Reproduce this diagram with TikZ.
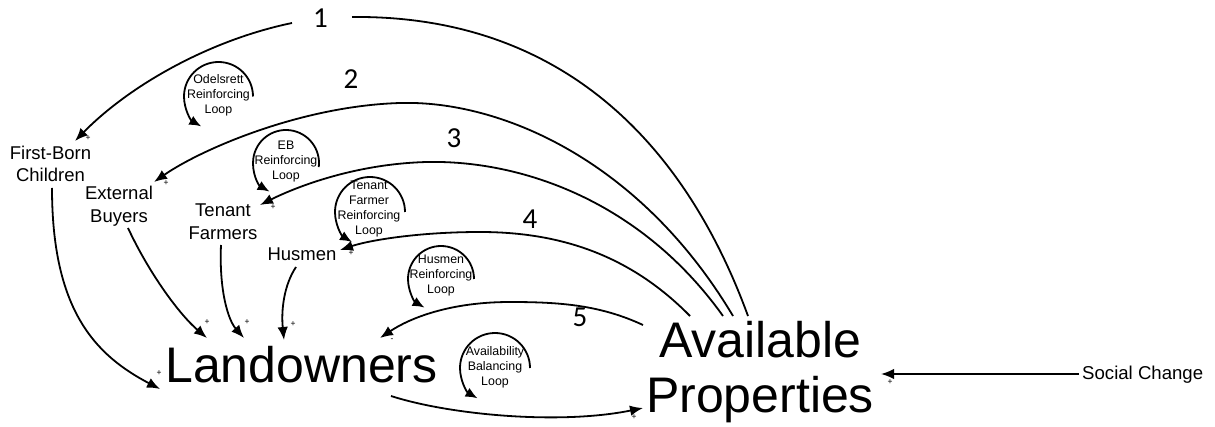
\documentclass[tikz,border=0pt]{standalone}
\usepackage{fontspec}
\setmainfont{Liberation Sans}
\newfontfamily\numfont{Carlito}
\usetikzlibrary{arrows.meta,calc}
\begin{document}
\begin{tikzpicture}[x=1pt,y=-1pt,
  conn/.style={line width=1.8pt,-{Latex[length=13pt,width=10.5pt]}},
  plain/.style={line width=1.8pt},
  lbl/.style={font=\fontsize{18.5}{22.5}\selectfont,align=center,inner sep=0pt},
  big/.style={font=\fontsize{50}{55}\selectfont,align=center,inner sep=0pt},
  looptxt/.style={font=\fontsize{12.4}{15}\selectfont,align=center,inner sep=0pt},
  num/.style={font=\numfont\fontsize{29}{29}\selectfont,inner sep=0pt,anchor=base},
  pol/.style={font=\fontsize{8.5}{8.5}\selectfont,inner sep=0pt},
  looparc/.style={line width=1.8pt,-{Latex[length=12pt,width=10pt]}}
]
\useasboundingbox (0,0) rectangle (1215,427);

% main variables
\node[lbl] (fbc) at (50.5,164) {First-Born\\Children};
\node[lbl] (eb) at (119,206) {External\\Buyers};
\node[lbl] (tf) at (223,221.5) {Tenant\\Farmers};
\node[lbl,anchor=base] (hus) at (302,261) {Husmen};
\node[big,anchor=base] (land) at (301.5,382) {Landowners};
\node[big] (avail) at (760,372.5) {Available\\Properties};
\node[font=\fontsize{18.6}{20}\selectfont,anchor=base west,inner sep=0pt] (soc) at (1082,379) {Social Change};

% loop numbers
\node[num] (n1) at (320.5,28) {1};
\node[num] (n2) at (351,89) {2};
\node[num] (n3) at (454,148) {3};
\node[num] (n4) at (530,229) {4};
\node[num] (n5) at (580,327) {5};

% loop markers
\coordinate (lo) at (218.5,96.5);
\node[looptxt] (lot) at (218.5,95) {Odelsrett\\Reinforcing\\Loop};
\draw[looparc] ([xshift=34.5pt]lo) arc[start angle=0,end angle=-240,radius=34.5];

\coordinate (le) at (286,163);
\node[looptxt] (let) at (286,161.5) {EB\\Reinforcing\\Loop};
\draw[looparc] ($(le)+(7:33)$) arc[start angle=7,end angle=-240,radius=33];

\coordinate (lt) at (370,212);
\node[looptxt] (ltt) at (369,209) {Tenant\\Farmer\\Reinforcing\\Loop};
\draw[looparc] ([xshift=35pt]lt) arc[start angle=0,end angle=-239,radius=35];

\coordinate (lh) at (441,279);
\node[looptxt] (lht) at (441,276) {Husmen\\Reinforcing\\Loop};
\draw[looparc] ([xshift=33pt]lh) arc[start angle=0,end angle=-240,radius=33];

\coordinate (la) at (495,368);
\node[looptxt] (lat) at (495,367) {Availability\\Balancing\\Loop};
\draw[looparc] ([xshift=35pt]la) arc[start angle=0,end angle=-240,radius=35];

% connector end points
\coordinate (a1) at (748,316);
\coordinate (a2) at (733,316);
\coordinate (a3) at (723,316);
\coordinate (a4) at (690,316);
\coordinate (a5) at (643,325);
\coordinate (ain) at (643,408);
\coordinate (asoc) at (881,374);
\coordinate (socout) at (1079,374);
\coordinate (n1r) at (352,17);
\coordinate (n1l) at (292,23);
\coordinate (fbin) at (75,141);
\coordinate (fbout) at (52,188);
\coordinate (ebin) at (154,182);
\coordinate (ebout) at (128,228);
\coordinate (tfin) at (260,205);
\coordinate (tfout) at (221,245);
\coordinate (husin) at (340,250);
\coordinate (husout) at (296,267);
\coordinate (l1) at (160,389);
\coordinate (l2) at (207,338);
\coordinate (l3) at (244,338);
\coordinate (l4) at (284,340);
\coordinate (l5) at (380,338);
\coordinate (lout) at (391,396);

% connectors
\draw[plain] (a1) .. controls (680,130) and (550,15) .. (n1r);
\draw[conn] (n1l) .. controls (210,40) and (130,85) .. (fbin);
\draw[conn] (a2) .. controls (640,160) and (500,100) .. (400,103) .. controls (300,106) and (200,150) .. (ebin);
\draw[conn] (a3) .. controls (640,200) and (520,160) .. (427,162) .. controls (350,164) and (290,190) .. (tfin);
\draw[conn] (a4) .. controls (630,255) and (560,232) .. (480,232) .. controls (420,232) and (370,240) .. (husin);
\draw[conn] (a5) .. controls (600,305) and (560,302) .. (510,302) .. controls (450,302) and (410,318) .. (l5);
\draw[conn] (lout) .. controls (450,415) and (560,425) .. (ain);
\draw[conn] (fbout) .. controls (52,310) and (95,355) .. (l1);
\draw[conn] (ebout) .. controls (150,275) and (180,315) .. (l2);
\draw[conn] (tfout) .. controls (219,290) and (228,320) .. (l3);
\draw[conn] (husout) .. controls (284,285) and (281,310) .. (l4);
\draw[conn] (socout) -- (asoc);

% polarities
\node[pol] (p1) at (88,138) {+};
\node[pol] (p2) at (166,183) {+};
\node[pol] (p3) at (273,207) {+};
\node[pol] (p4) at (351,253) {+};
\node[pol] (p5) at (159,373) {+};
\node[pol] (p6) at (207,322) {+};
\node[pol] (p7) at (247,322) {+};
\node[pol] (p8) at (293,324) {+};
\node[pol] (p9) at (392,340) {-};
\node[pol] (p10) at (634,417) {+};
\node[pol] (p11) at (890,382) {+};
\end{tikzpicture}
\end{document}
